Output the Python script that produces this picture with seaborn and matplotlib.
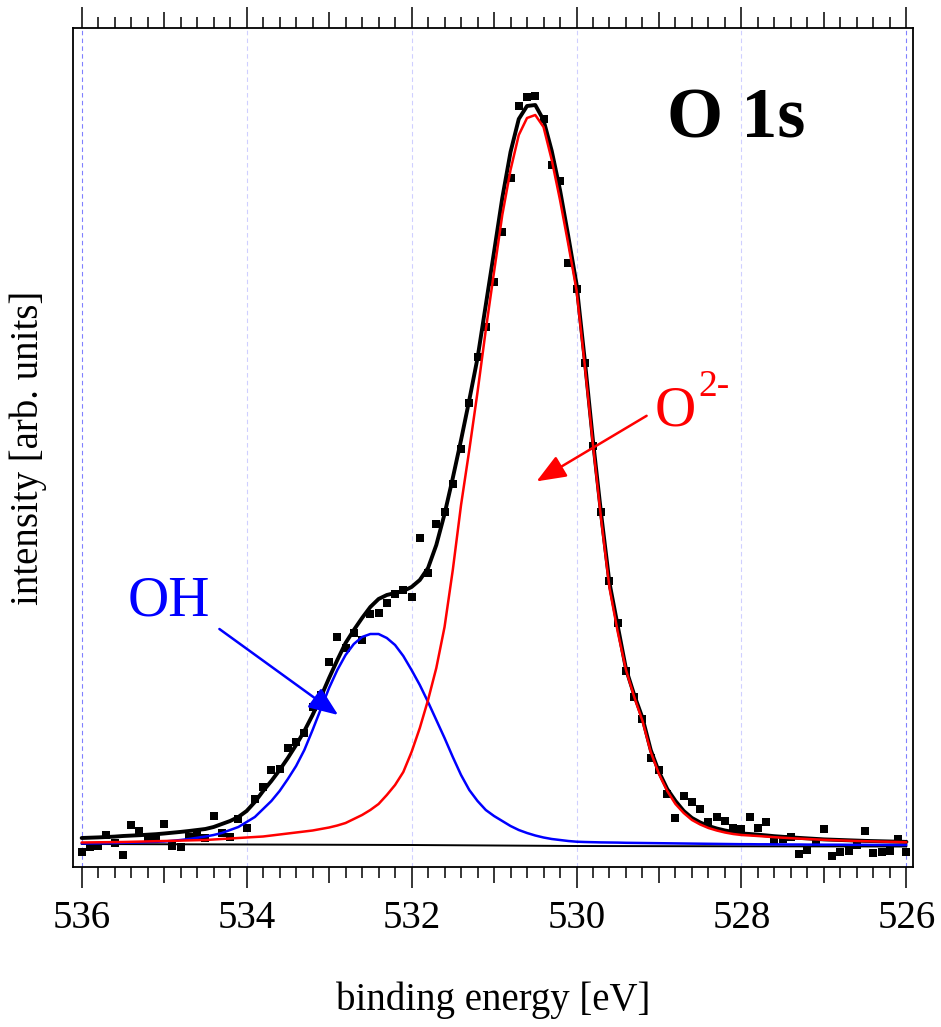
import numpy as np
import matplotlib
matplotlib.use("Agg")
import matplotlib.pyplot as plt
import seaborn as sns
from matplotlib.ticker import MultipleLocator, FuncFormatter

# measured O 1s spectrum, 0.1 eV steps from 536 to 526 eV
energy = np.linspace(536.0, 526.0, 101)
counts = [15, 20, 21, 32, 24, 12, 42, 36, 29, 29,
          43, 21, 20, 30, 32, 29, 51, 34, 30, 48,
          39, 68, 80, 97, 98, 119, 125, 134, 160, 172,
          205, 230, 219, 234, 227, 253, 254, 264, 273, 277,
          270, 329, 294, 343, 355, 383, 418, 464, 510, 540,
          585, 635, 689, 761, 770, 771, 748, 702, 686, 604,
          578, 504, 421, 355, 286, 244, 196, 170, 148, 109,
          97, 73, 49, 71, 65, 58, 45, 50, 46, 39,
          38, 50, 39, 45, 26, 28, 30, 13, 17, 25,
          38, 11, 15, 16, 22, 36, 14, 15, 16, 28, 15]

# fitted envelope and components on the same energy grid
fit_total = [29, 29.3, 29.6, 30, 30.4, 31, 31.4, 31.8, 32.3, 32.8,
             33.5, 34.3, 35.1, 36, 37, 38,
             40, 43, 46, 50, 56, 65, 76, 86, 97, 109,
             122, 136, 152, 170, 189, 207, 224, 237, 249, 260,
             268, 272, 274, 276, 280, 287, 299, 322, 353,
             389, 427, 467, 509, 562, 615, 669, 715, 748, 761,
             762, 747, 716, 677, 631, 583, 507, 426, 352, 284, 241, 198,
             172, 149, 117, 95, 78, 66, 56, 49, 44.5, 41, 38.5, 36.5, 35, 33.5,
             33, 32.3, 31.6, 30.8, 30.2, 29.6, 29.1, 28.6, 28.1, 27.6,
             27.3, 27, 26.7, 26.4, 26.1, 25.9, 25.7, 25.5, 25.3, 25.1]
fit_oxide = [24.5, 24.6, 24.7, 24.8, 24.9, 25, 25.2, 25.4, 25.6, 25.8,
             26, 26.2, 26.4, 26.6, 26.8, 27,
             27.5, 28, 28.5, 29, 29.5, 30, 30.5, 31.5, 32.5, 33.5,
             34.5, 35.5, 36.5, 38, 39.5, 41.5, 44, 48, 52, 57,
             63, 72, 82, 95, 115, 139, 167, 199, 240,
             297, 362, 417, 475, 537, 595, 652, 697, 732, 749,
             752, 740, 707, 667, 623, 577, 502, 422, 347, 279, 235, 197,
             170, 146, 115, 93, 76, 63, 54, 47, 42.5, 39, 36.5, 34.5, 33, 32,
             31.5, 31, 30.4, 29.8, 29.3, 28.8, 28.4, 28, 27.6, 27.2,
             26.9, 26.6, 26.3, 26, 25.8, 25.6, 25.4, 25.2, 25, 24.8]
fit_hydroxide = [23.5, 23.6, 23.7, 23.8, 24, 24.2, 24.4, 24.6, 24.9, 25.2,
                 25.5, 26.2, 27, 28, 29.2, 30.5,
                 32, 34, 37, 40, 45, 50, 58, 66, 76, 88,
                 101, 117, 137, 158, 179, 197, 212, 223, 230, 233,
                 233, 229, 222, 211, 197, 182, 165, 147, 129,
                 110, 92, 77, 66, 57, 51, 46, 41, 37, 34,
                 31.5, 29.5, 28, 27, 26, 25.3, 25, 24.8, 24.6, 24.5, 24.4, 24.2,
                 24.1, 24, 23.9, 23.8, 23.7, 23.6, 23.5, 23.4, 23.3, 23.2, 23.1, 23, 22.9, 22.8,
                 22.8, 22.7, 22.7, 22.6, 22.6, 22.5, 22.5, 22.4, 22.4, 22.3,
                 22.3, 22.3, 22.2, 22.2, 22.2, 22.1, 22.1, 22.1, 22, 22]

# background
bg_energy = [536.0, 534.0, 532.0, 531.0, 530.0, 528.0, 526.0]
bg_counts = [23, 22.5, 22, 21.5, 21, 20.7, 20.5]

sns.set_style("ticks", {"text.color": "black", "axes.labelcolor": "black",
                        "xtick.color": "black", "axes.edgecolor": "black"})
plt.rcParams["font.family"] = ["Liberation Serif", "DejaVu Serif"]

fig = plt.figure(figsize=(9.41, 10.27), dpi=100)
ax = fig.add_axes([73 / 941, 1 - 867 / 1027, 840 / 941, 839 / 1027])

sns.scatterplot(x=energy, y=counts, marker="s", s=40, color="black",
                linewidth=0, ax=ax, zorder=2)
sns.lineplot(x=energy, y=fit_total, color="black", lw=2.8, ax=ax, zorder=3)
sns.lineplot(x=bg_energy, y=bg_counts, color="black", lw=1.4, ax=ax, zorder=3)
sns.lineplot(x=energy, y=fit_hydroxide, color="blue", lw=1.8, ax=ax, zorder=4)
sns.lineplot(x=energy, y=fit_oxide, color="red", lw=1.8, ax=ax, zorder=5)

ax.set_xlim(536.105, 525.92)
ax.set_ylim(0, 839)
ax.set_yticks([])

ax.xaxis.set_major_locator(MultipleLocator(1))
ax.xaxis.set_minor_locator(MultipleLocator(0.2))
ax.xaxis.set_major_formatter(
    FuncFormatter(lambda v, p: f"{v:.0f}" if round(v) % 2 == 0 else ""))
ax.tick_params(axis="x", which="major", direction="out", length=15, width=1.1,
               top=True, bottom=True, labelsize=28, pad=9, color="black",
               labelcolor="black")
ax.tick_params(axis="x", which="minor", direction="out", length=8.2, width=1.1,
               top=True, bottom=True, color="black")

for side in ["left", "right", "top", "bottom"]:
    ax.spines[side].set_color("black")
    ax.spines[side].set_linewidth(1.3)

ax.set_xlabel("binding energy [eV]", fontsize=28, labelpad=32)
ax.set_ylabel("intensity [arb. units]", fontsize=28, labelpad=19)

# dashed grid at the labelled ticks only
ax.grid(True, axis="x", which="major", linestyle=(0, (4, 3)), lw=0.8)
for loc, tick in zip(ax.get_xticks(), ax.xaxis.get_major_ticks()):
    if round(loc) % 2 == 1:
        tick.tick1line.set_markersize(11.5)
        tick.tick2line.set_markersize(11.5)
        tick.gridline.set_visible(False)
    elif round(loc) in (536, 526):
        tick.gridline.set_color("#8080ff")
    else:
        tick.gridline.set_color("#cfcfff")

ax.text(0.789, 0.870, "O 1s", transform=ax.transAxes, fontsize=52,
        fontweight="bold", ha="center", va="baseline", color="black")

ax.text(534.94, 252, "OH", color="blue", fontsize=41, ha="center", va="baseline")
ax.annotate("", xy=(532.89, 152), xytext=(534.33, 238),
            arrowprops=dict(arrowstyle="-|>,head_length=0.45,head_width=0.18",
                            color="blue", lw=1.8, mutation_scale=40,
                            shrinkA=0, shrinkB=0))

ax.text(529.05, 442, "O", color="red", fontsize=41, ha="left", va="baseline")
ax.annotate("2-", xy=(529.05, 442), xytext=(31, 21), textcoords="offset points",
            color="red", fontsize=27, ha="left", va="baseline")
ax.annotate("", xy=(530.485, 385.6), xytext=(529.15, 451.2),
            arrowprops=dict(arrowstyle="-|>,head_length=0.45,head_width=0.18",
                            color="red", lw=1.8, mutation_scale=40,
                            shrinkA=0, shrinkB=0))

fig.savefig("out.png", dpi=100)
